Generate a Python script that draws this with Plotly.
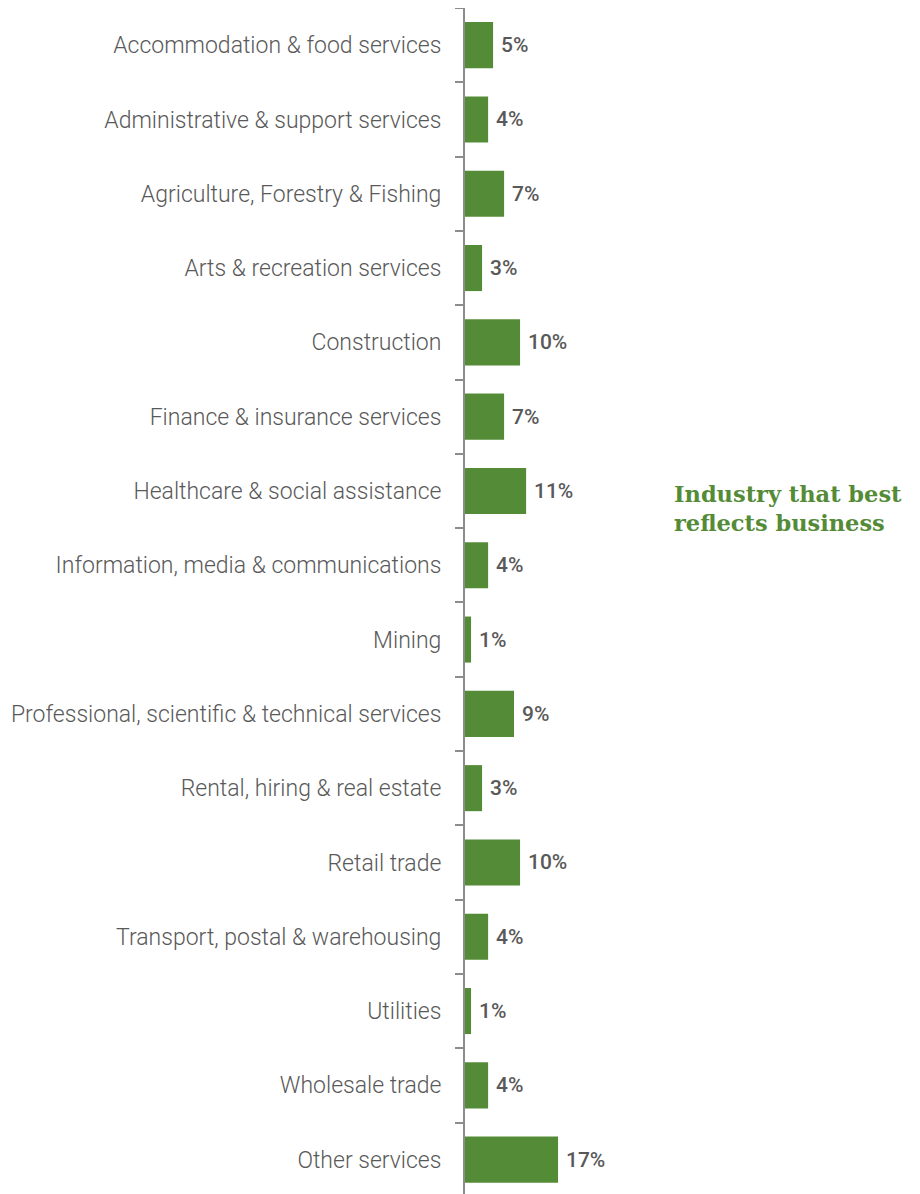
import plotly.graph_objects as go

categories = [
    "Accommodation & food services",
    "Administrative & support services",
    "Agriculture, Forestry & Fishing",
    "Arts & recreation services",
    "Construction",
    "Finance & insurance services",
    "Healthcare & social assistance",
    "Information, media & communications",
    "Mining",
    "Professional, scientific & technical services",
    "Rental, hiring & real estate",
    "Retail trade",
    "Transport, postal & warehousing",
    "Utilities",
    "Wholesale trade",
    "Other services",
]
values = [5.1, 4.2, 7.1, 3.1, 10.0, 7.1, 11.1, 4.2, 1.1, 8.9, 3.1, 10.0, 4.2, 1.1, 4.2, 16.9]
value_labels = ["5%", "4%", "7%", "3%", "10%", "7%", "11%", "4%", "1%", "9%", "3%", "10%", "4%", "1%", "4%", "17%"]
title_text = "Industry that best<br>reflects business"

GREEN = "#548B37"
GREY = "#595959"

fig = go.Figure()
fig.add_trace(go.Bar(
    x=values, y=categories, orientation="h",
    marker=dict(color=GREEN, line=dict(width=0)),
    hoverinfo="skip",
))

for v, c, t in zip(values, categories, value_labels):
    fig.add_annotation(
        x=v, y=c, xref="x", yref="y", text=t, showarrow=False,
        xanchor="left", yanchor="middle", xshift=6, yshift=0,
        font=dict(family="Roboto", size=21, color=GREY, weight=500),
    )

fig.add_annotation(
    x=1.056, y=0.5808, xref="paper", yref="paper", text=title_text,
    showarrow=False, xanchor="left", yanchor="middle", align="left",
    font=dict(family="DejaVu Serif", size=22.5, color=GREEN, weight="bold"),
)

fig.update_layout(
    width=920, height=1194,
    margin=dict(l=457, r=267, t=0, b=0),
    paper_bgcolor="white", plot_bgcolor="white",
    bargap=0.38,
    showlegend=False,
    xaxis=dict(range=[0, 35.6], visible=False, fixedrange=True),
    yaxis=dict(
        categoryorder="array", categoryarray=categories,
        range=[15.57, -0.5],
        showline=True, linecolor="#8C8C8C", linewidth=2,
        ticks="outside", tickson="boundaries", ticklen=8, tickwidth=2, tickcolor="#8C8C8C",
        ticklabelstandoff=17,
        tickfont=dict(family="Roboto", size=23, color=GREY, weight=300),
        showgrid=False, zeroline=False, automargin=False,
    ),
)

fig.write_html("out.html")
